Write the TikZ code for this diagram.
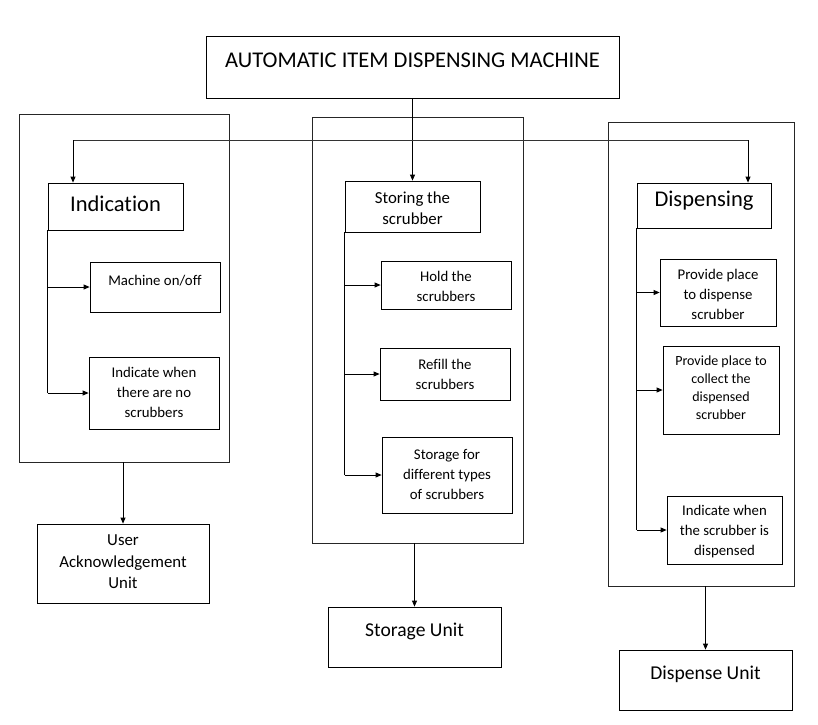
\documentclass[tikz,border=0pt]{standalone}
\usepackage{fontspec}
\setmainfont{Carlito}[Ligatures=NoCommon]
\usetikzlibrary{arrows.meta,fit}
\begin{document}
\begin{tikzpicture}[x=1pt,y=-1pt,
  box/.style={draw, line width=0.8pt, inner sep=0pt},
  cont/.style={draw=black!85, line width=0.9pt, inner sep=0pt},
  ln/.style={line width=0.8pt},
  arr/.style={line width=0.8pt, -{Triangle[length=6pt,width=5pt]}},
  big/.style={font=\fontsize{22.5}{26}\selectfont, inner sep=0pt},
  unit/.style={font=\fontsize{19.6}{24}\selectfont, inner sep=0pt},
  mid/.style={font=\fontsize{16.8}{21.5}\selectfont, inner sep=0pt, align=center},
  sml/.style={font=\fontsize{14.8}{20}\selectfont, inner sep=0pt, align=center}]
\useasboundingbox (0,0) rectangle (818,724);
% top
\node[box, fit={(206,36) (619,98)}] (top) {};
\node[big] (ttop) at (412.5,60) {AUTOMATIC ITEM DISPENSING MACHINE};
% containers
\node[cont, fit={(19,114) (229,462)}] (c1) {};
\node[cont, fit={(312,117) (523,543)}] (c2) {};
\node[cont, fit={(608,122) (794,586)}] (c3) {};
% column 1
\node[box, fit={(48,183) (183,230)}] (ind) {};
\node[big] (tind) at (115.5,204) {Indication};
\node[box, fit={(90,262) (220,312)}] (mach) {};
\node[sml] (tmach) at (155,281) {Machine on/off};
\node[box, fit={(89,357) (219,429)}] (none) {};
\node[sml] (tnone) at (154,392) {Indicate when\\there are no\\scrubbers};
\node[box, fit={(37,524) (209,603)}] (user) {};
\node[mid] (tuser) at (123,562) {User\\Acknowledgement\\Unit};
% column 2
\node[box, fit={(345,181) (480,232)}] (stor) {};
\node[mid] (tstor) at (412.5,208) {Storing the\\scrubber};
\node[box, fit={(381,261) (511,309)}] (hold) {};
\node[sml] (thold) at (446,286) {Hold the\\scrubbers};
\node[box, fit={(380,348) (510,400)}] (refill) {};
\node[sml] (trefill) at (445,374) {Refill the\\scrubbers};
\node[box, fit={(382,437) (512,513)}] (types) {};
\node[sml] (ttypes) at (447,474) {Storage for\\different types\\of scrubbers};
\node[box, fit={(328,607) (501,667)}] (su) {};
\node[unit] (tsu) at (414.5,631) {Storage Unit};
% column 3
\node[box, fit={(637,183) (771,228)}] (disp) {};
\node[big] (tdisp) at (704,201) {Dispensing};
\node[box, fit={(660,259) (776,326)}] (place) {};
\node[sml] (tplace) at (718,294) {Provide place\\to dispense\\scrubber};
\node[box, fit={(663,346) (779,434)}] (collect) {};
\node[sml, font=\fontsize{14}{18}\selectfont] (tcollect) at (721,388) {Provide place to\\collect the\\dispensed\\scrubber};
\node[box, fit={(667,496) (782,564)}] (done) {};
\node[sml] (tdone) at (724.5,532) {Indicate when\\the scrubber is\\dispensed};
\node[box, fit={(619,650) (792,710)}] (du) {};
\node[unit] (tdu) at (705.5,674) {Dispense Unit};
% connectors from top
\coordinate (hl) at (73,140);
\coordinate (hr) at (748,140);
\draw[arr] (top.south -| stor.north) -- (stor.north);
\draw[ln, draw=black!80] (hl) -- (hr);
\draw[arr] (hl) -- (hl |- ind.north);
\draw[arr] (hr) -- (hr |- disp.north);
% column 1 branches
\draw[ln] (ind.south west) -- (ind.south west |- none.west);
\draw[arr] (ind.south west |- mach.west) -- (mach.west);
\draw[arr] (ind.south west |- none.west) -- (none.west);
% column 2 branches
\draw[ln] (stor.south west) -- (stor.south west |- types.west);
\draw[arr] (stor.south west |- hold.west) -- (hold.west);
\draw[arr] (stor.south west |- refill.west) -- (refill.west);
\draw[arr] (stor.south west |- types.west) -- (types.west);
% column 3 branches
\draw[ln] (disp.south west) -- (disp.south west |- done.west);
\draw[arr] (disp.south west |- place.west) -- (place.west);
\draw[arr] (disp.south west |- collect.west) -- (collect.west);
\draw[arr] (disp.south west |- done.west) -- (done.west);
% to units
\draw[arr] (user.north |- c1.south) -- (user.north);
\draw[arr] (su.north |- c2.south) -- (su.north);
\draw[arr] (du.north |- c3.south) -- (du.north);
\end{tikzpicture}
\end{document}
